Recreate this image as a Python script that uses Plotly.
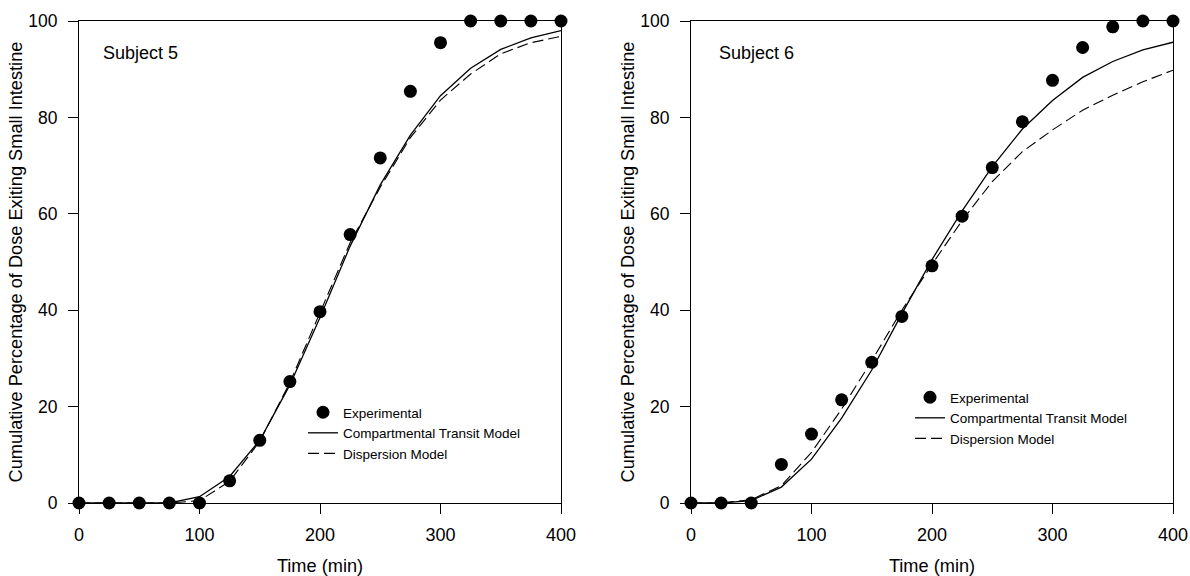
import plotly.graph_objects as go

time = [0, 25, 50, 75, 100, 125, 150, 175, 200, 225, 250, 275, 300, 325, 350, 375, 400]

s5_exp = [0, 0, 0, 0, 0, 4.6, 13.0, 25.2, 39.7, 55.7, 71.6, 85.4, 95.5, 100, 100, 100, 100]
s5_comp = [0, 0, 0, 0, 1.3, 5.5, 13.0, 24.5, 38.5, 53.3, 66.0, 76.3, 84.5, 90.2, 94.1, 96.5, 98.0]
s5_disp = [0, 0, 0, 0, 0.5, 4.5, 12.8, 25.0, 39.5, 54.0, 65.5, 75.8, 83.6, 89.0, 93.2, 95.5, 96.8]

s6_exp = [0, 0, 0, 8.0, 14.3, 21.4, 29.2, 38.7, 49.2, 59.5, 69.6, 79.1, 87.7, 94.5, 98.8, 100, 100]
s6_comp = [0, 0, 0.5, 3.3, 9.1, 17.6, 27.6, 39.3, 50.5, 60.6, 69.8, 77.6, 83.5, 88.3, 91.6, 94.0, 95.6]
s6_disp = [0, 0, 0.7, 3.6, 10.5, 19.5, 29.5, 40.0, 49.5, 58.6, 66.7, 72.9, 77.4, 81.5, 84.6, 87.4, 89.8]

x_ticks = [0, 100, 200, 300, 400]
y_ticks = [0, 20, 40, 60, 80, 100]
subjects = ["Subject 5", "Subject 6"]
names = ["Experimental", "Compartmental Transit Model", "Dispersion Model"]

FONT = "Liberation Sans, Arial, sans-serif"
W, H = 1190, 576

fig = go.Figure()

panels = [
    ("x", "y", "legend", s5_exp, s5_comp, s5_disp),
    ("x2", "y2", "legend2", s6_exp, s6_comp, s6_disp),
]
for xa, ya, lg, exp, comp, disp in panels:
    fig.add_trace(go.Scatter(x=time, y=exp, mode="markers", name=names[0],
                             marker=dict(color="black", size=13),
                             xaxis=xa, yaxis=ya, legend=lg, cliponaxis=False))
    fig.add_trace(go.Scatter(x=time, y=comp, mode="lines", name=names[1],
                             line=dict(color="black", width=1.3),
                             xaxis=xa, yaxis=ya, legend=lg, cliponaxis=False))
    fig.add_trace(go.Scatter(x=time, y=disp, mode="lines", name=names[2],
                             line=dict(color="black", width=1.1, dash="11px,5px"),
                             xaxis=xa, yaxis=ya, legend=lg, cliponaxis=False))


def px_x(p):
    return p / W


def px_y(p):
    return 1 - p / H


ydom = [px_y(503), px_y(21)]
xdoms = [[px_x(79), px_x(561)], [px_x(691), px_x(1173)]]

axis_common = dict(showline=True, linecolor="black", linewidth=1, mirror=True,
                   ticks="outside", ticklen=10, tickcolor="black", tickwidth=1,
                   showgrid=False, zeroline=False, automargin=False)

title_y = "Cumulative Percentage of Dose Exiting Small Intestine"
for i, (xa, ya) in enumerate([("xaxis", "yaxis"), ("xaxis2", "yaxis2")]):
    fig.update_layout({
        xa: dict(axis_common, domain=xdoms[i], range=[0, 400], tickvals=x_ticks,
                 anchor="y" if i == 0 else "y2", ticklabelstandoff=5,
                 tickfont=dict(family=FONT, size=18, color="black"),
                 title=dict(text="Time (min)", font=dict(family=FONT, size=18.2, color="black"), standoff=15)),
        ya: dict(axis_common, domain=ydom, range=[0, 100], tickvals=y_ticks,
                 anchor="x" if i == 0 else "x2", ticklabelstandoff=7,
                 tickfont=dict(family=FONT, size=17.5, color="black"),
                 title=dict(text=title_y, font=dict(family=FONT, size=18.2, color="black"), standoff=0)),
    })

for i, s in enumerate(subjects):
    fig.add_annotation(text=s, x=18.5 if i == 0 else 21.5, y=93.4,
                       xref="x" if i == 0 else "x2", yref="y" if i == 0 else "y2",
                       xanchor="left", yanchor="middle", showarrow=False,
                       font=dict(family=FONT, size=18, color="black"))

leg_common = dict(font=dict(family=FONT, size=13.5, color="black"), bgcolor="rgba(0,0,0,0)",
                  borderwidth=0, xanchor="left", yanchor="top", tracegroupgap=0,
                  itemsizing="trace")
fig.update_layout(
    width=W, height=H,
    margin=dict(l=0, r=0, t=0, b=0, autoexpand=False),
    paper_bgcolor="white", plot_bgcolor="white",
    showlegend=True,
    legend=dict(leg_common, x=px_x(303), y=px_y(397)),
    legend2=dict(leg_common, x=px_x(910), y=px_y(382)),
)

fig.write_html("out.html", config={"displayModeBar": False},
               post_script="document.body.style.margin='0';document.body.style.overflow='hidden';")
